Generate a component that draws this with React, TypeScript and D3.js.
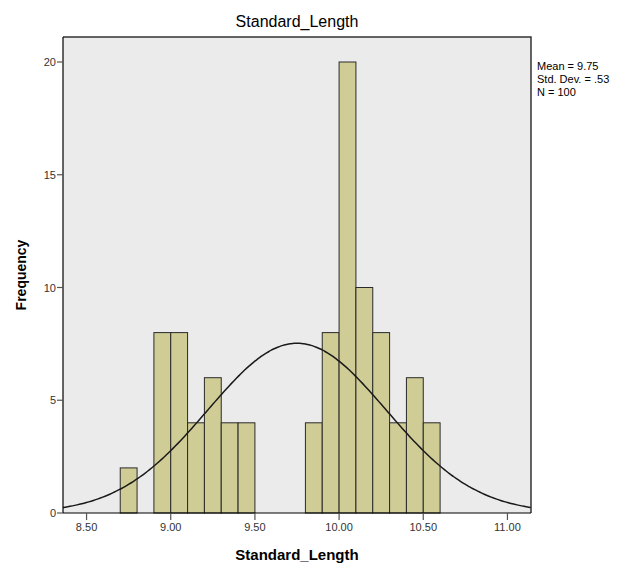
import React from "react";
import * as d3 from "d3";

const binStarts = [8.7, 8.9, 9.0, 9.1, 9.2, 9.3, 9.4, 9.8, 9.9, 10.0, 10.1, 10.2, 10.3, 10.4, 10.5];
const binCounts = [2, 8, 8, 4, 6, 4, 4, 4, 8, 20, 10, 8, 4, 6, 4];
const binWidth = 0.1;
const xTicks = [8.5, 9.0, 9.5, 10.0, 10.5, 11.0];
const yTicks = [0, 5, 10, 15, 20];
const stats = { mean: 9.75, sd: 0.53, n: 100 };
const legendLines = ["Mean = 9.75", "Std. Dev. = .53", "N = 100"];

const W = 629, H = 565;
const left = 63, right = 531, top = 37, bottom = 513;

export default function App() {
  const x = d3.scaleLinear().domain([8.36, 11.14]).range([left, right]);
  const y = d3.scaleLinear().domain([0, 20]).range([bottom, 62]);

  const norm = (v: number) =>
    (stats.n * binWidth) / (stats.sd * Math.sqrt(2 * Math.PI)) *
    Math.exp(-0.5 * ((v - stats.mean) / stats.sd) ** 2);
  const pts = d3.range(0, 201).map((i) => {
    const v = 8.36 + (i / 200) * (11.14 - 8.36);
    return [v, norm(v)] as [number, number];
  });
  const line = d3.line<[number, number]>().x((d) => x(d[0])).y((d) => y(d[1])).curve(d3.curveBasis);

  const font = "'Liberation Sans', Arial, sans-serif";
  return (
    <svg width={W} height={H} style={{ position: "absolute", left: 0, top: 0 }} fontFamily={font}>
      <rect x={0} y={0} width={W} height={H} fill="#ffffff" />
      <text x={(left + right) / 2} y={27} textAnchor="middle" fontSize={16} fill="#000">Standard_Length</text>
      <rect x={left} y={top} width={right - left} height={bottom - top} fill="#ebebeb" stroke="none" />
      <defs>
        <clipPath id="plotclip">
          <rect x={left} y={top} width={right - left} height={bottom - top} />
        </clipPath>
      </defs>
      {binStarts.map((s, i) => (
        <rect key={i} x={x(s)} y={y(binCounts[i])} width={x(s + binWidth) - x(s)} height={y(0) - y(binCounts[i])}
          fill="#cfcc96" stroke="#2a2a2a" strokeWidth={1} />
      ))}
      <path d={line(pts) || ""} fill="none" stroke="#1a1a1a" strokeWidth={1.5} clipPath="url(#plotclip)" />
      <path d={`M${left},${top}H${right}V${bottom}`} fill="none" stroke="#333" strokeWidth={1.5} />
      <line x1={left} x2={left} y1={top} y2={bottom} stroke="#000" strokeWidth={1.2} />
      <line x1={left} x2={right} y1={bottom} y2={bottom} stroke="#000" strokeWidth={1.2} />
      {xTicks.map((t) => (
        <g key={t}>
          <line x1={x(t)} x2={x(t)} y1={bottom} y2={bottom + 7} stroke="#555" strokeWidth={1.2} />
          <text x={x(t)} y={531} textAnchor="middle" fontSize={11} fill="#333">{t.toFixed(2)}</text>
        </g>
      ))}
      {yTicks.map((t) => (
        <g key={t}>
          <line x1={left - 6} x2={left} y1={y(t)} y2={y(t)} stroke="#555" strokeWidth={1.2} />
          <text x={left - 7} y={y(t) + 4} textAnchor="end" fontSize={11} fill="#333">{t}</text>
        </g>
      ))}
      <text x={297} y={560} textAnchor="middle" fontSize={15} fontWeight="bold" fill="#000">Standard_Length</text>
      <text transform={`translate(26,${(top + bottom) / 2}) rotate(-90)`} textAnchor="middle" fontSize={14} fontWeight="bold" fill="#000">Frequency</text>
      {legendLines.map((l, i) => (
        <text key={i} x={537} y={70 + i * 13} fontSize={11} fill="#000">{l}</text>
      ))}
    </svg>
  );
}
